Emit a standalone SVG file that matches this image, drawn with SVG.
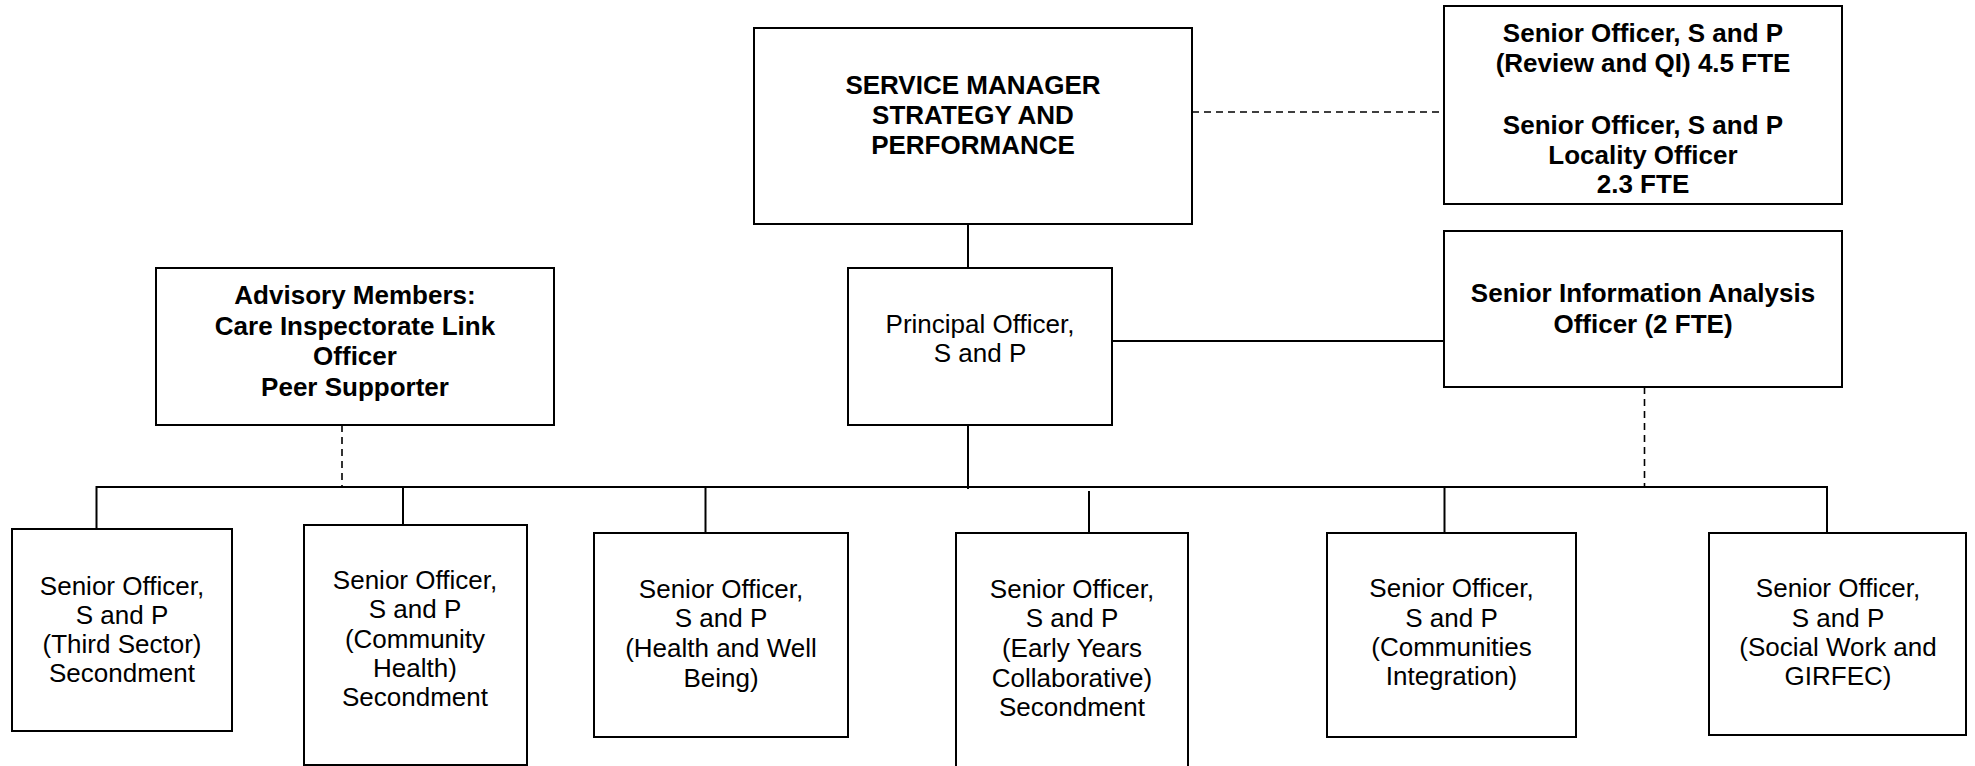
<svg xmlns="http://www.w3.org/2000/svg" width="1975" height="766" viewBox="0 0 1975 766">
<style>
.box{fill:#fff;stroke:#000;stroke-width:2}
.t{font-family:"Liberation Sans",Arial,sans-serif;font-size:26px;fill:#000;text-anchor:middle}
.b{font-weight:bold}
.ln{stroke:#000;stroke-width:2;fill:none}
.dash{stroke:#000;stroke-width:1.6;fill:none;stroke-dasharray:7 5}
</style>
<rect width="1975" height="766" fill="#fff"/>
<g id="connectors">
<line class="ln" x1="968" y1="224" x2="968" y2="268"/>
<line class="ln" x1="968" y1="425" x2="968" y2="489"/>
<line class="ln" x1="1112" y1="341" x2="1444" y2="341"/>
<line class="dash" x1="1192" y1="112" x2="1444" y2="112"/>
<line class="dash" x1="342" y1="425" x2="342" y2="487"/>
<line class="dash" x1="1644.5" y1="387" x2="1644.5" y2="487"/>
<polyline class="ln" points="96.5,531 96.5,487 1827,487 1827,533"/>
<line class="ln" x1="403" y1="487" x2="403" y2="525"/>
<line class="ln" x1="705.5" y1="487" x2="705.5" y2="533"/>
<line class="ln" x1="1089" y1="491" x2="1089" y2="533"/>
<line class="ln" x1="1444.5" y1="487" x2="1444.5" y2="533"/>
</g>
<g id="service-manager">
<rect class="box" x="754" y="28" width="438" height="196"/>
<text class="t b" x="973" y="94">SERVICE MANAGER</text>
<text class="t b" x="973" y="124">STRATEGY AND</text>
<text class="t b" x="973" y="154">PERFORMANCE</text>
</g>
<g id="senior-officers-review">
<rect class="box" x="1444" y="6" width="398" height="198"/>
<text class="t b" x="1643" y="42">Senior Officer, S and P</text>
<text class="t b" x="1643" y="72">(Review and QI) 4.5 FTE</text>
<text class="t b" x="1643" y="134">Senior Officer, S and P</text>
<text class="t b" x="1643" y="163.5">Locality Officer</text>
<text class="t b" x="1643" y="193">2.3 FTE</text>
</g>
<g id="senior-info-analysis">
<rect class="box" x="1444" y="231" width="398" height="156"/>
<text class="t b" x="1643" y="302">Senior Information Analysis</text>
<text class="t b" x="1643" y="333">Officer (2 FTE)</text>
</g>
<g id="advisory-members">
<rect class="box" x="156" y="268" width="398" height="157"/>
<text class="t b" x="355" y="304">Advisory Members:</text>
<text class="t b" x="355" y="335">Care Inspectorate Link</text>
<text class="t b" x="355" y="365">Officer</text>
<text class="t b" x="355" y="395.5">Peer Supporter</text>
</g>
<g id="principal-officer">
<rect class="box" x="848" y="268" width="264" height="157"/>
<text class="t" x="980" y="333">Principal Officer,</text>
<text class="t" x="980" y="362">S and P</text>
</g>
<g id="third-sector">
<rect class="box" x="12" y="529" width="220" height="202"/>
<text class="t" x="122" y="595">Senior Officer,</text>
<text class="t" x="122" y="624">S and P</text>
<text class="t" x="122" y="653">(Third Sector)</text>
<text class="t" x="122" y="682">Secondment</text>
</g>
<g id="community-health">
<rect class="box" x="304" y="525" width="223" height="240"/>
<text class="t" x="415" y="589">Senior Officer,</text>
<text class="t" x="415" y="618">S and P</text>
<text class="t" x="415" y="647.5">(Community</text>
<text class="t" x="415" y="677">Health)</text>
<text class="t" x="415" y="706">Secondment</text>
</g>
<g id="health-well-being">
<rect class="box" x="594" y="533" width="254" height="204"/>
<text class="t" x="721" y="598">Senior Officer,</text>
<text class="t" x="721" y="627">S and P</text>
<text class="t" x="721" y="657">(Health and Well</text>
<text class="t" x="721" y="686.5">Being)</text>
</g>
<g id="early-years">
<rect class="box" x="956" y="533" width="232" height="240"/>
<text class="t" x="1072" y="598">Senior Officer,</text>
<text class="t" x="1072" y="627">S and P</text>
<text class="t" x="1072" y="657">(Early Years</text>
<text class="t" x="1072" y="686.5">Collaborative)</text>
<text class="t" x="1072" y="716">Secondment</text>
</g>
<g id="communities-integration">
<rect class="box" x="1327" y="533" width="249" height="204"/>
<text class="t" x="1451.5" y="597">Senior Officer,</text>
<text class="t" x="1451.5" y="626.5">S and P</text>
<text class="t" x="1451.5" y="656">(Communities</text>
<text class="t" x="1451.5" y="685">Integration)</text>
</g>
<g id="social-work-girfec">
<rect class="box" x="1709" y="533" width="257" height="202"/>
<text class="t" x="1838" y="597">Senior Officer,</text>
<text class="t" x="1838" y="626.5">S and P</text>
<text class="t" x="1838" y="656">(Social Work and</text>
<text class="t" x="1838" y="685">GIRFEC)</text>
</g>
</svg>
